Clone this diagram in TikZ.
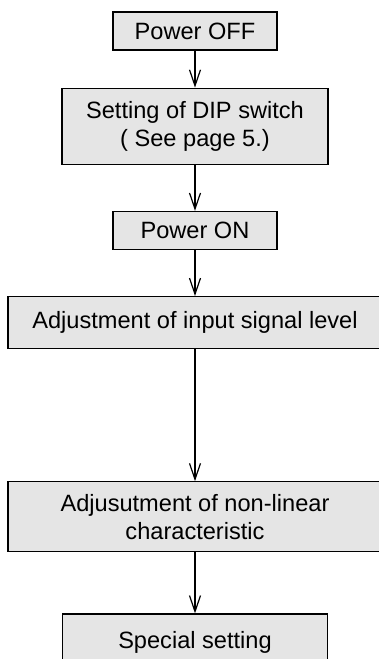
\documentclass[tikz,border=0pt]{standalone}
\usepackage{fontspec}
\setmainfont{Liberation Sans}
\usetikzlibrary{positioning,arrows.meta}
\begin{document}
\begin{tikzpicture}[
    x=1pt, y=1pt,
    stage/.style={draw, line width=1.2pt, fill=black!10, align=center, inner sep=0pt,
        font=\fontsize{23.6}{28}\selectfont},
    flow/.style={draw, line width=1.2pt, -{Straight Barb[length=16pt, width=11pt]}}
]
    \clip (0,0) rectangle (379,-659);
    \node [stage, minimum width=164pt, minimum height=38pt] (off) at (195,-31) {Power OFF};
    \node [stage, minimum width=266pt, minimum height=76pt, below=37pt of off] (dip)
        {Setting of DIP switch\\( See page 5.)};
    \node [stage, minimum width=164pt, minimum height=38pt, below=46pt of dip] (on) {Power ON};
    \node [stage, minimum width=374pt, minimum height=52pt, below=46pt of on] (level)
        {Adjustment of input signal level};
    \node [stage, minimum width=374pt, minimum height=70pt, below=132pt of level] (curve)
        {Adjusutment of non-linear\\characteristic};
    \node [stage, minimum width=265pt, minimum height=56pt, below=61pt of curve] (special)
        {Special setting};

    \draw [flow] (off) -- (dip);
    \draw [flow] (dip) -- (on);
    \draw [flow] (on) -- (level);
    \draw [flow] (level) -- (curve);
    \draw [flow] (curve) -- (special);
\end{tikzpicture}
\end{document}
